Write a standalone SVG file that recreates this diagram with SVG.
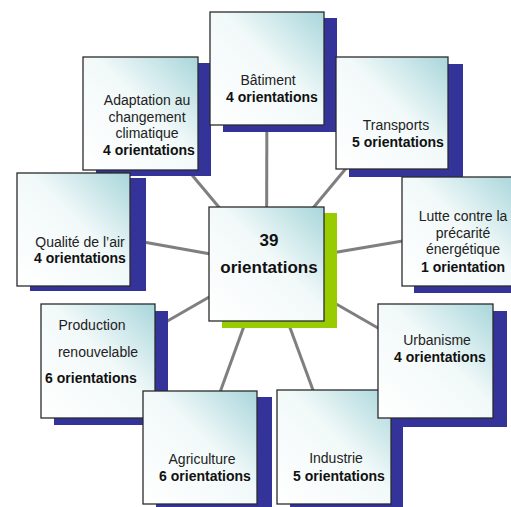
<svg xmlns="http://www.w3.org/2000/svg" width="511" height="507" viewBox="0 0 511 507">
<defs>
<linearGradient id="g" x1="0" y1="1" x2="1" y2="0">
<stop offset="0" stop-color="#ffffff"/>
<stop offset="0.55" stop-color="#f2f9f9"/>
<stop offset="1" stop-color="#a8d6db"/>
</linearGradient>
</defs>
<style>
.sh{fill:#333399}
.shg{fill:#99cc00}
.bx{fill:url(#g);stroke:#2b2b2b;stroke-width:1.3}
.t{font-family:"Liberation Sans",Arial,sans-serif;font-size:14px;fill:#222222;text-anchor:middle}
.b{font-weight:bold;fill:#111111}
.c{font-family:"Liberation Sans",Arial,sans-serif;font-size:17px;font-weight:bold;fill:#111;text-anchor:middle}
.ln{stroke:#7f7f7f;stroke-width:3;fill:none}
</style>
<rect width="511" height="507" fill="#ffffff"/>
<g id="connectors">
<line class="ln" x1="266.5" y1="264" x2="267" y2="68.5"/>
<line class="ln" x1="266.5" y1="264" x2="140.5" y2="113.5"/>
<line class="ln" x1="266.5" y1="264" x2="392" y2="113"/>
<line class="ln" x1="266.5" y1="264" x2="73.5" y2="229.5"/>
<line class="ln" x1="266.5" y1="264" x2="459" y2="231.5"/>
<line class="ln" x1="266.5" y1="264" x2="98" y2="361"/>
<line class="ln" x1="266.5" y1="264" x2="435.5" y2="361"/>
<line class="ln" x1="266.5" y1="264" x2="200" y2="447.5"/>
<line class="ln" x1="266.5" y1="264" x2="334" y2="447"/>
</g>
<g id="adaptation">
<rect class="sh" x="96" y="63" width="115" height="113"/>
<rect class="bx" x="83" y="57" width="115" height="113"/>
<text class="t" x="147" y="105">Adaptation au</text>
<text class="t" x="147" y="122">changement</text>
<text class="t" x="147" y="138">climatique</text>
<text class="t b" x="149" y="155">4 orientations</text>
</g>
<g id="batiment">
<rect class="sh" x="223" y="18" width="114" height="114"/>
<rect class="bx" x="210" y="12" width="114" height="113"/>
<text class="t" x="268" y="85">Bâtiment</text>
<text class="t b" x="272" y="102">4 orientations</text>
</g>
<g id="transports">
<rect class="sh" x="349" y="64" width="114" height="113"/>
<rect class="bx" x="336" y="57" width="112" height="112"/>
<text class="t" x="396" y="130">Transports</text>
<text class="t b" x="398" y="147">5 orientations</text>
</g>
<g id="qualite">
<rect class="sh" x="30" y="178" width="116" height="113"/>
<rect class="bx" x="17" y="173" width="113" height="113"/>
<text class="t" x="80" y="247">Qualité de l’air</text>
<text class="t b" x="80" y="263">4 orientations</text>
</g>
<g id="lutte">
<rect class="sh" x="414" y="184" width="114" height="109"/>
<rect class="bx" x="402" y="177" width="114" height="109"/>
<text class="t" x="463" y="221">Lutte contre la</text>
<text class="t" x="463" y="238">précarité</text>
<text class="t" x="463" y="254">énergétique</text>
<text class="t b" x="463" y="272">1 orientation</text>
</g>
<g id="centre">
<rect class="shg" x="222" y="213" width="115" height="115"/>
<rect class="bx" x="209" y="207" width="115" height="114"/>
<text class="c" x="269" y="246">39</text>
<text class="c" x="269" y="273">orientations</text>
</g>
<g id="production">
<rect class="sh" x="54" y="311" width="114" height="114"/>
<rect class="bx" x="41" y="304" width="114" height="114"/>
<text class="t" x="92" y="330">Production</text>
<text class="t" x="98" y="357">renouvelable</text>
<text class="t b" x="91" y="383">6 orientations</text>
</g>
<g id="agriculture">
<rect class="sh" x="156" y="397" width="116" height="113"/>
<rect class="bx" x="143" y="391" width="114" height="113"/>
<text class="t" x="202" y="464">Agriculture</text>
<text class="t b" x="205" y="481">6 orientations</text>
</g>
<g id="industrie">
<rect class="sh" x="290" y="396" width="113" height="114"/>
<rect class="bx" x="277" y="390" width="114" height="114"/>
<text class="t" x="336" y="463">Industrie</text>
<text class="t b" x="339" y="481">5 orientations</text>
</g>
<g id="urbanisme">
<rect class="sh" x="392" y="311" width="115" height="116"/>
<rect class="bx" x="378" y="304" width="115" height="114"/>
<text class="t" x="437" y="345">Urbanisme</text>
<text class="t b" x="440" y="362">4 orientations</text>
</g>
</svg>
